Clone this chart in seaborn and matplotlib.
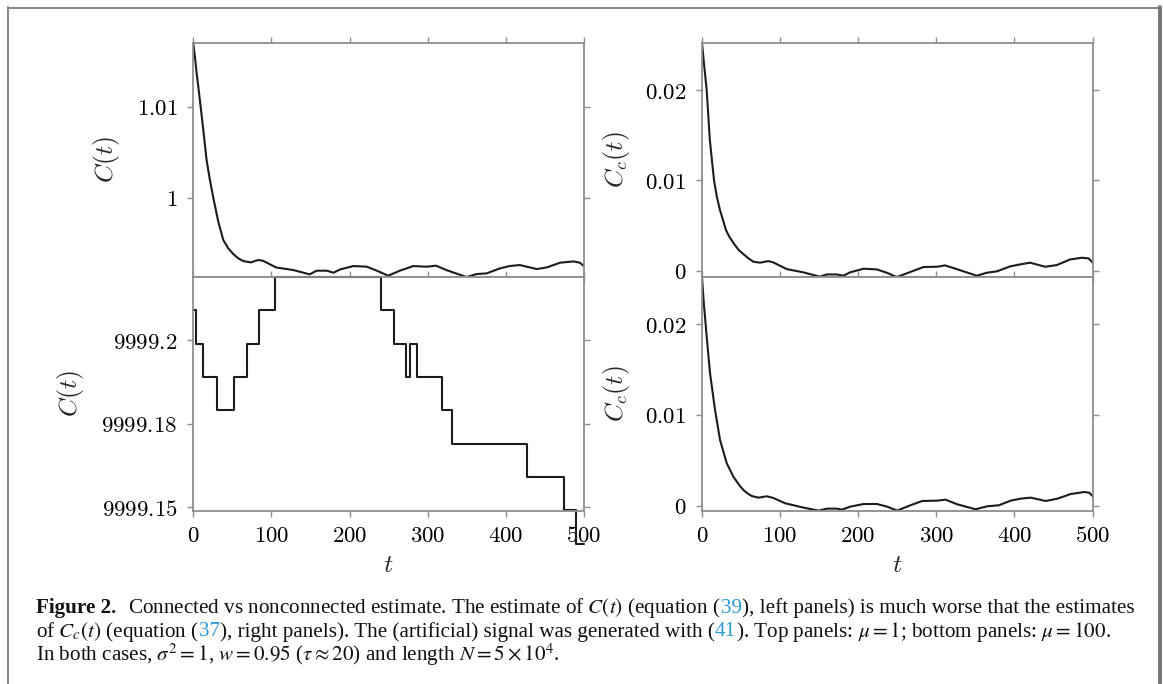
import numpy as np
import pandas as pd
import matplotlib
matplotlib.use("Agg")
import matplotlib.pyplot as plt
import seaborn as sns
from matplotlib.lines import Line2D

# top-left: C(t), mu = 1
t_tl = [0, 1, 2.1, 4.3, 6.4, 9.4, 12.8, 17, 21.3, 25.6, 32, 38.4, 44.8, 51.2, 57.6, 64,
        73.5, 83, 89, 106, 128, 149, 158, 171, 179.5, 188, 205, 222, 235, 249.6, 264.5,
        281.6, 298.6, 311, 324, 350, 362.6, 375.4, 392.5, 405, 418, 439.8, 452.6, 469.7,
        486.8, 495, 500]
c_tl = [1.0170, 1.0162, 1.0155, 1.01366, 1.0122, 1.0100, 1.00744, 1.00414, 1.00194,
        1.0000, 0.99736, 0.99535, 0.99443, 0.99381, 0.99333, 0.99304, 0.99289, 0.99315,
        0.99308, 0.99234, 0.99205, 0.99158, 0.99198, 0.99198, 0.99176, 0.99212, 0.99249,
        0.99242, 0.99198, 0.99143, 0.99198, 0.99249, 0.99242, 0.99253, 0.99205, 0.99128,
        0.99161, 0.99168, 0.99223, 0.99249, 0.99260, 0.99216, 0.99234, 0.99286, 0.99300,
        0.99286, 0.99249]

# top-right: Cc(t), mu = 1
t_tr = [0, 2, 4, 6, 10, 15.4, 19, 23, 30.7, 35, 40.6, 47, 53.4, 59.5, 65.7, 74.3, 84.9,
        91.4, 108.5, 129.8, 151, 159.7, 172.5, 181, 189.6, 206.7, 223.7, 236.6, 249.4,
        266.4, 283.5, 300.6, 311.3, 326.2, 351.8, 364.6, 377.5, 394.5, 407.3, 420.2,
        439.4, 454.3, 471.4, 486.3, 494.9, 500]
c_tr = [0.02524, 0.0234, 0.0217, 0.0200, 0.0145, 0.0100, 0.00819, 0.00672, 0.0045,
        0.00376, 0.00303, 0.00229, 0.00181, 0.00137, 0.00100, 0.00089, 0.00107, 0.00092,
        0.00018, -0.00018, -0.00066, -0.00041, -0.00041, -0.00055, -0.00018, 0.00022,
        0.00015, -0.00022, -0.00070, -0.00015, 0.00041, 0.00044, 0.00059, 0.00018,
        -0.00055, -0.00022, -0.00007, 0.00048, 0.00070, 0.00089, 0.00044, 0.00063,
        0.00125, 0.00144, 0.00137, 0.00092]

# bottom-left: C(t), mu = 100 (staircase)
t_bl = [0, 3.4, 12.8, 29.9, 52, 69.1, 84, 104.5, 239.8, 256.8, 272.2, 277.3, 285.8,
        317.8, 331.5, 427.9, 474.4, 490.6, 500]
c_bl = [9999.2072, 9999.1992, 9999.1912, 9999.1832, 9999.1912, 9999.1992, 9999.2072,
        9999.2152, 9999.2072, 9999.1992, 9999.1912, 9999.1992, 9999.1912, 9999.1832,
        9999.1752, 9999.1672, 9999.1592, 9999.1512, 9999.1512]

# bottom-right: Cc(t), mu = 100
t_br = [0, 2, 4, 6, 10.3, 16.7, 23.1, 31.7, 40.2, 46.6, 53, 58.5, 63.7, 72.3, 83, 91.5,
        106.5, 130, 149.3, 160, 172.8, 179.2, 189.9, 207, 224.1, 237, 249.8, 266.9, 281.9,
        301.1, 311.8, 326.8, 350.3, 365.3, 380.2, 395.2, 408, 420.9, 440.1, 455.1, 472.2,
        489.3, 495.7, 500]
c_br = [0.02521, 0.02264, 0.02062, 0.01861, 0.01457, 0.01053, 0.00723, 0.00466, 0.00319,
        0.00239, 0.00172, 0.00133, 0.00106, 0.00088, 0.00103, 0.00084, 0.00026, -0.00022,
        -0.00055, -0.00033, -0.00033, -0.00044, -0.00011, 0.00018, 0.00018, -0.00011,
        -0.00055, 0.00004, 0.00051, 0.00055, 0.00066, 0.00015, -0.00040, -0.00007,
        0.00004, 0.00055, 0.00077, 0.00088, 0.00051, 0.00077, 0.00128, 0.00150, 0.00143,
        0.00106]

xticks = [0, 100, 200, 300, 400, 500]

sns.set_theme(style="white")
plt.rcParams["mathtext.fontset"] = "cm"
plt.rcParams["font.family"] = ["DejaVu Serif"]

W, H = 1163, 684
fig = plt.figure(figsize=(W / 100, H / 100), dpi=100)
fig.patch.set_facecolor("white")

GREY = "#8e8e8e"
LINE = "#1c1c1c"

lx, rx, aw = 193.3 / W, 702 / W, 390.5 / W
top_b, top_h = 1 - 276.7 / H, 234 / H
bot_b, bot_h = 1 - 511 / H, 234.3 / H

ax_tl = fig.add_axes([lx, top_b, aw, top_h])
ax_tr = fig.add_axes([rx, top_b, aw, top_h])
ax_bl = fig.add_axes([lx, bot_b, aw, bot_h])
ax_br = fig.add_axes([rx, bot_b, aw, bot_h])

sns.lineplot(x=t_tl, y=c_tl, ax=ax_tl, color=LINE, lw=1.5)
sns.lineplot(x=t_tr, y=c_tr, ax=ax_tr, color=LINE, lw=1.5)
sns.lineplot(x=t_bl, y=c_bl, ax=ax_bl, color=LINE, lw=1.5,
             drawstyle="steps-post", clip_on=False)
sns.lineplot(x=t_br, y=c_br, ax=ax_br, color=LINE, lw=1.5)

ax_tl.set_ylim(0.99132, 1.01703)
ax_tr.set_ylim(-0.00066, 0.02524)
ax_bl.set_ylim(9999.15904, 9999.2153)
ax_br.set_ylim(-0.00059, 0.02521)

ax_tl.set_yticks([1.0, 1.01], ["$1$", "$1.01$"])
ax_tr.set_yticks([0, 0.01, 0.02], ["$0$", "$0.01$", "$0.02$"])
ax_bl.set_yticks([9999.16, 9999.18, 9999.2], ["$9999.15$", "$9999.18$", "$9999.2$"])
ax_br.set_yticks([0, 0.01, 0.02], ["$0$", "$0.01$", "$0.02$"])

for ax in (ax_tl, ax_tr, ax_bl, ax_br):
    ax.set_xlim(0, 500)
    ax.set_facecolor("white")
    for s in ax.spines.values():
        s.set_visible(True)
        s.set_color(GREY)
        s.set_linewidth(1.3)
    ax.tick_params(which="both", direction="out", length=4.3, width=1.0, color=GREY,
                   top=True, right=True, bottom=True, left=True,
                   labelsize=16.5, labelcolor="black")
    ax.tick_params(axis="y", pad=7)
    ax.tick_params(axis="x", pad=6)
    ax.grid(False)

for ax in (ax_tl, ax_tr):
    ax.set_xticks(xticks, [""] * len(xticks))
for ax in (ax_bl, ax_br):
    ax.set_xticks(xticks, ["$%d$" % v for v in xticks])
    ax.set_xlabel("$t$", fontsize=18.5)
    ax.xaxis.set_label_coords(0.5, -0.175)

ax_tl.set_ylabel("$C(t)$", fontsize=18.5)
ax_bl.set_ylabel("$C(t)$", fontsize=18.5)
ax_tr.set_ylabel("$C_c(t)$", fontsize=18.5)
ax_br.set_ylabel("$C_c(t)$", fontsize=18.5)
ax_tl.yaxis.set_label_coords(-0.1825, 0.5)
ax_bl.yaxis.set_label_coords(-0.275, 0.5)
ax_tr.yaxis.set_label_coords(-0.18, 0.5)
ax_br.yaxis.set_label_coords(-0.18, 0.5)

# page frame
fig.add_artist(Line2D([7.5 / W, 7.5 / W], [1 - 7 / H, -0.05], transform=fig.transFigure,
                      color="#8a8a8a", lw=1.5))
fig.add_artist(Line2D([7.5 / W, 1159.5 / W], [1 - 7.5 / H, 1 - 7.5 / H],
                      transform=fig.transFigure, color="#8a8a8a", lw=1.5))
fig.add_artist(Line2D([1159.5 / W, 1159.5 / W], [1 - 7 / H, -0.05],
                      transform=fig.transFigure, color="#777777", lw=2.8))

# caption
BLUE = "#2b9bd8"
cap = [
    [("Figure 2.", {"weight": "bold"}), (None, 12),
     ("Connected vs nonconnected estimate. The estimate of $C(t)$ (equation (", {}),
     ("39", {"color": BLUE}),
     ("), left panels) is much worse that the estimates", {})],
    [("of $C_c(t)$ (equation (", {}), ("37", {"color": BLUE}),
     ("), right panels). The (artificial) signal was generated with (", {}),
     ("41", {"color": BLUE}),
     ("). Top panels: $\\mu=1$; bottom panels: $\\mu=100$.", {})],
    [("In both cases, $\\sigma^2=1$, $w=0.95$ ($\\tau\\approx20$) and length $N=5\\times10^4$.", {})],
]
baselines = [613, 636.5, 661]
renderer = fig.canvas.get_renderer()


def draw_caption(size):
    made = []
    widths = []
    for segs, yb in zip(cap, baselines):
        x = 36.0
        for txt, kw in segs:
            if txt is None:
                x += kw
                continue
            t = fig.text(x / W, 1 - yb / H, txt, fontsize=size, va="baseline", ha="left",
                         family="Liberation Serif", math_fontfamily="stix",
                         color=kw.get("color", "#111111"),
                         weight=kw.get("weight", "normal"))
            made.append(t)
            x += t.get_window_extent(renderer).width
        widths.append(x - 36.0)
    return made, widths


made, widths = draw_caption(12)
for t in made:
    t.remove()
size = 12 * 1097 / widths[0]
draw_caption(size)

fig.savefig("out.png", dpi=100, facecolor="white")
